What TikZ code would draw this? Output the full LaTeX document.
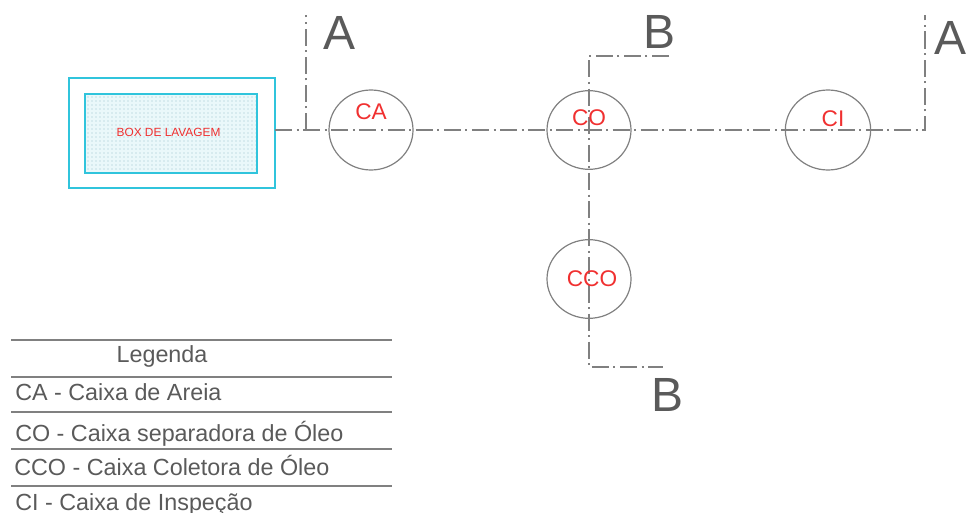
\documentclass[tikz,border=0pt]{standalone}
\usepackage{fontspec}
\setmainfont{Liberation Sans}
\usetikzlibrary{patterns,shapes.geometric}
\tikzset{
    cxa/.style={draw=linegray, line width=0.9pt, shape=ellipse, inner sep=0pt},
    cxatxt/.style={text=txtred, font=\fontsize{17}{17}\selectfont, inner sep=0pt},
    corte/.style={draw=linegray, line width=0.9pt, dash pattern=on 12.8pt off 3.4pt on 1.5pt off 3.4pt},
    letra/.style={text=lettergray, font=\fontsize{36}{36}\selectfont, inner sep=0pt},
    legtxt/.style={text=lettergray, font=\fontsize{17.5}{17.5}\selectfont, inner sep=0pt, anchor=base west},
    legline/.style={draw=linegray, line width=0.8pt},
    boxline/.style={draw=boxcyan, line width=1pt, inner sep=0pt},
}
\begin{document}
\begin{tikzpicture}[x=0.75pt, y=-0.75pt]
    \definecolor{linegray}{HTML}{808080}
    \definecolor{lettergray}{HTML}{5A5A5A}
    \definecolor{txtred}{HTML}{F03030}
    \definecolor{boxcyan}{HTML}{30C4DC}
    \definecolor{boxfill}{HTML}{EAF8FA}
    \definecolor{boxdot}{HTML}{9CC4CC}
    \useasboundingbox (0,0) rectangle (966,513);
    % box
    \node[boxline, minimum width=154.5pt, minimum height=82.5pt] (box) at (172,133) {};
    \node[boxline, preaction={fill=boxfill}, pattern=dots, pattern color=boxdot, minimum width=129pt, minimum height=59.25pt] (lav) at (171,133.5) {};
    \node[cxatxt, font=\fontsize{8.9}{8.9}\selectfont] (tlav) at (168.5,132) {BOX DE LAVAGEM};
    % caixas
    \node[cxa, minimum width=63pt, minimum height=60pt] (ca) at (371,130) {};
    \node[cxa, minimum width=63pt, minimum height=59pt] (co) at (589,130) {};
    \node[cxa, minimum width=64pt, minimum height=60pt] (ci) at (828,130) {};
    \node[cxa, minimum width=63pt, minimum height=59pt] (cco) at (589,279) {};
    % cortes
    \coordinate (c0) at (275,130);
    \coordinate (a1) at (306,15);
    \coordinate (a1b) at (306,130);
    \coordinate (a2) at (925,15);
    \coordinate (a2b) at (925,130);
    \coordinate (b1) at (669,56);
    \coordinate (b1b) at (589,56);
    \coordinate (b2) at (663,367);
    \coordinate (b2b) at (589,367);
    \draw[corte] (c0) -- (a2b) -- (a2);
    \draw[corte] (a1b) -- (a1);
    \draw[corte] (b1) -- (b1b) -- (b2b) -- (b2);
    \node[cxatxt] (tca) at (371,112) {CA};
    \node[cxatxt] (tco) at (589,118) {CO};
    \node[cxatxt] (tci) at (833,119) {CI};
    \node[cxatxt] (tcco) at (592,279) {CCO};
    \node[letra] (la1) at (340,33) {A};
    \node[letra] (la2) at (950,38) {A};
    \node[letra] (lb1) at (659,32) {B};
    \node[letra] (lb2) at (667,395) {B};
    % legenda
    \foreach \ly/\lname in {340/l0, 377/l1, 412/l2, 449/l3, 486/l4} {
        \coordinate (\lname a) at (11,\ly);
        \coordinate (\lname b) at (392,\ly);
        \draw[legline] (\lname a) -- (\lname b);
    }
    \node[legtxt, anchor=base] (leg) at (162,362) {Legenda};
    \node[legtxt] (legca) at (15,400.5) {CA - Caixa de Areia};
    \node[legtxt] (legco) at (15,441.5) {CO - Caixa separadora de Óleo};
    \node[legtxt] (legcco) at (14,475) {CCO - Caixa Coletora de Óleo};
    \node[legtxt] (legci) at (15,510) {CI - Caixa de Inspeção};
\end{tikzpicture}
\end{document}
